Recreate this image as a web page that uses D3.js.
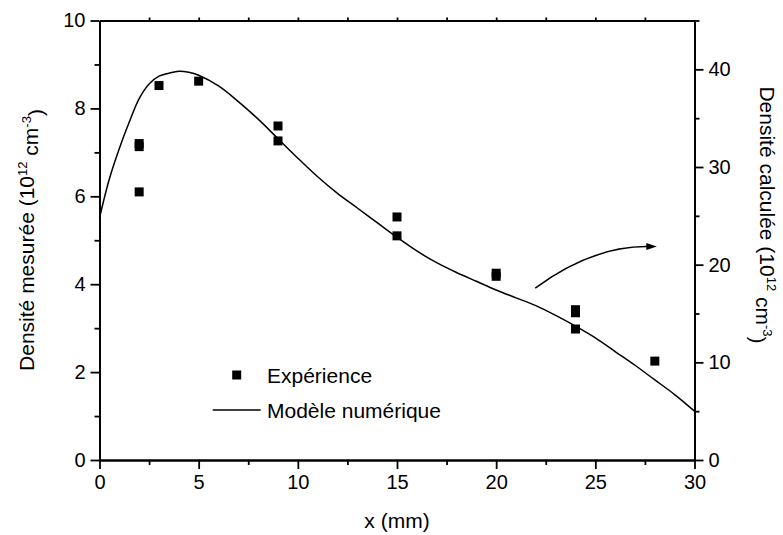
<!DOCTYPE html>
<html>
<head>
<meta charset="utf-8">
<script src="https://cdn.jsdelivr.net/npm/d3@7"></script>
<style>
  html, body { margin: 0; padding: 0; background: #fff; }
  svg { display: block; }
  text { font-family: "Liberation Sans", Arial, sans-serif; fill: #000; }
</style>
</head>
<body>
<svg id="chart" width="783" height="535"></svg>
<script>
// ---------------- data ----------------
const expX = [2, 2, 2, 3, 5, 9, 9, 15, 15, 20, 20, 24, 24, 24, 28];
const expY = [7.2, 7.13, 6.1, 8.52, 8.62, 7.6, 7.26, 5.53, 5.1, 4.25, 4.18, 3.42, 3.35, 2.98, 2.25];

const modelX = [0, 0.5, 1, 1.5, 2, 2.5, 3, 3.5, 4, 4.5, 5, 6, 7, 8, 9, 10, 11, 12, 13, 14, 15, 16, 17, 18, 19, 20, 21, 22, 23, 24, 25, 26, 27, 28, 29, 30];
const modelY = [24.8, 28.8, 31.9, 34.6, 37.0, 38.5, 39.3, 39.6, 39.8, 39.7, 39.4, 38.3, 36.7, 34.9, 32.9, 30.9, 29.0, 27.3, 25.8, 24.3, 22.8, 21.4, 20.2, 19.2, 18.3, 17.4, 16.6, 15.8, 14.8, 13.7, 12.5, 11.1, 9.7, 8.2, 6.7, 5.0];

const xTicks = [0, 5, 10, 15, 20, 25, 30];
const xMinor = [2.5, 7.5, 12.5, 17.5, 22.5, 27.5];
const yLeftTicks = [0, 2, 4, 6, 8, 10];
const yLeftMinor = [1, 3, 5, 7, 9];
const yRightTicks = [0, 10, 20, 30, 40];
const yRightMinor = [5, 15, 25, 35, 45];
const topTicks = [2.5, 5, 7.5, 10, 12.5, 15, 17.5, 20, 22.5, 25, 27.5];

const legendLabels = ["Expérience", "Modèle numérique"];
// arrow (data coords: x, right-axis value): start, control, end, tip
const arrowPts = [[21.97, 17.6], [24.85, 21.9], [27.62, 21.85], [28.1, 21.85]];

// ---------------- layout ----------------
const svg = d3.select("#chart");
const L = 99.5, R = 694.5, T = 20.5, B = 460;
const x = d3.scaleLinear().domain([0, 30]).range([L, R]);
const yL = d3.scaleLinear().domain([0, 10]).range([B, T]);
const yR = d3.scaleLinear().domain([0, 45]).range([B, T]);

const tickFont = 20, labelFont = 21;
const axW = 1.8;

function styleAxis(g) {
  g.selectAll("path.domain").attr("stroke", "#000").attr("stroke-width", axW);
  g.selectAll(".tick line").attr("stroke", "#000").attr("stroke-width", axW);
  g.selectAll(".tick text").style("font-size", tickFont + "px").style("font-family", '"Liberation Sans", Arial, sans-serif');
}

// bottom axis
const gB = svg.append("g").attr("transform", `translate(0,${B})`);
gB.append("g").call(d3.axisBottom(x).tickValues(xMinor).tickSize(5).tickFormat("").tickSizeOuter(0)).call(styleAxis);
gB.append("g").call(d3.axisBottom(x).tickValues(xTicks).tickSize(9).tickPadding(6).tickSizeOuter(0)).call(styleAxis);

// top axis
const gT = svg.append("g").attr("transform", `translate(0,${T})`);
gT.append("g").call(d3.axisTop(x).tickValues(topTicks).tickSize(3).tickFormat("").tickSizeOuter(0)).call(styleAxis);

// left axis
const gLft = svg.append("g").attr("transform", `translate(${L},0)`);
gLft.append("g").call(d3.axisLeft(yL).tickValues(yLeftMinor).tickSize(5).tickFormat("").tickSizeOuter(0)).call(styleAxis);
gLft.append("g").call(d3.axisLeft(yL).tickValues(yLeftTicks).tickSize(9).tickPadding(5).tickSizeOuter(0)).call(styleAxis);

// right axis
const gRt = svg.append("g").attr("transform", `translate(${R},0)`);
gRt.append("g").call(d3.axisRight(yR).tickValues(yRightMinor).tickSize(5).tickFormat("").tickSizeOuter(0)).call(styleAxis);
gRt.append("g").call(d3.axisRight(yR).tickValues(yRightTicks).tickSize(9).tickPadding(5).tickSizeOuter(0)).call(styleAxis);

// model curve (right axis)
const modelData = modelX.map((v, i) => [v, modelY[i]]);
svg.append("path")
  .datum(modelData)
  .attr("fill", "none")
  .attr("stroke", "#000")
  .attr("stroke-width", 1.5)
  .attr("d", d3.line().x(d => x(d[0])).y(d => yR(d[1])).curve(d3.curveCatmullRom));

// experiment squares (left axis)
const expData = expX.map((v, i) => [v, expY[i]]);
svg.append("g").selectAll("path")
  .data(expData).join("path")
  .attr("transform", d => `translate(${x(d[0])},${yL(d[1])})`)
  .attr("d", d3.symbol(d3.symbolSquare, 81))
  .attr("fill", "#000");

// arrow
const ap = arrowPts.map(p => [x(p[0]), yR(p[1])]);
svg.append("path")
  .attr("d", `M${ap[0][0]},${ap[0][1]} Q${ap[1][0]},${ap[1][1]} ${ap[2][0]},${ap[2][1]}`)
  .attr("fill", "none").attr("stroke", "#000").attr("stroke-width", 1.5);
svg.append("path")
  .attr("d", `M${ap[3][0]},${ap[3][1]} L${ap[2][0] - 1},${ap[2][1] - 3.5} L${ap[2][0] - 1},${ap[2][1] + 3.5} Z`)
  .attr("fill", "#000");

// legend
const lg = svg.append("g");
lg.append("path").attr("transform", "translate(236.7,375)").attr("d", d3.symbol(d3.symbolSquare, 81)).attr("fill", "#000");
lg.append("text").attr("x", 267).attr("y", 375).attr("dy", "0.36em").style("font-size", labelFont + "px").text(legendLabels[0]);
lg.append("line").attr("x1", 212.7).attr("x2", 260.7).attr("y1", 410).attr("y2", 410).attr("stroke", "#000").attr("stroke-width", 1.5);
lg.append("text").attr("x", 267).attr("y", 410).attr("dy", "0.36em").style("font-size", labelFont + "px").text(legendLabels[1]);

// axis titles
svg.append("text").attr("x", (L + R) / 2).attr("y", 528).attr("text-anchor", "middle").style("font-size", labelFont + "px").text("x (mm)");

function densLabel(sel, word) {
  sel.append("tspan").text("Densité " + word + " (10");
  sel.append("tspan").attr("dy", "-0.55em").style("font-size", "0.62em").text("12");
  sel.append("tspan").attr("dy", "0.55em").text(" cm");
  sel.append("tspan").attr("dy", "-0.55em").style("font-size", "0.62em").text("-3");
  sel.append("tspan").attr("dy", "0.55em").text(")");
}
const tl = svg.append("text").attr("transform", "translate(34,240) rotate(-90)").attr("text-anchor", "middle").style("font-size", labelFont + "px");
densLabel(tl, "mesurée");
const tr = svg.append("text").attr("transform", "translate(760,215) rotate(90)").attr("text-anchor", "middle").style("font-size", labelFont + "px");
densLabel(tr, "calculée");
</script>
</body>
</html>
